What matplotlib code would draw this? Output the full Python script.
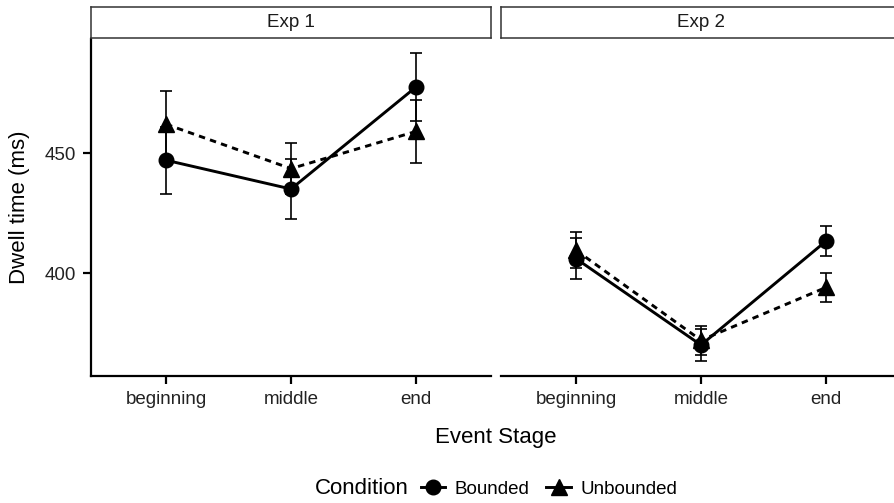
import numpy as np
import matplotlib
matplotlib.use("Agg")
import matplotlib.pyplot as plt
from matplotlib.lines import Line2D

plt.rcParams['font.family'] = ['Liberation Sans', 'DejaVu Sans']

stages = ['beginning', 'middle', 'end']
experiments = ['Exp 1', 'Exp 2']

# means and error bar half-widths
bounded_mean = {'Exp 1': [447, 435, 477.5], 'Exp 2': [406, 370, 413.3]}
bounded_err = {'Exp 1': [14, 12.5, 14], 'Exp 2': [8.5, 6.5, 6.3]}
unbounded_mean = {'Exp 1': [462, 443.5, 459], 'Exp 2': [409.5, 372, 394]}
unbounded_err = {'Exp 1': [14, 10.5, 13], 'Exp 2': [7.5, 6, 6]}

W, H = 895, 503
fig = plt.figure(figsize=(W / 100, H / 100), dpi=100)

def fx(px):
    return px / W

def fy(py):
    return 1 - py / H

panel_left = [91, 501]
panel_w = 400
top, bottom = 39, 376

x = np.arange(1, len(stages) + 1)

for i, exp in enumerate(experiments):
    l = panel_left[i]
    ax = fig.add_axes([fx(l), fy(bottom), panel_w / W, (bottom - top) / H])
    ax.errorbar(x, bounded_mean[exp], yerr=bounded_err[exp], fmt='none',
                ecolor='black', elinewidth=1.2, capsize=4.5, capthick=1.2, zorder=2)
    ax.errorbar(x, unbounded_mean[exp], yerr=unbounded_err[exp], fmt='none',
                ecolor='black', elinewidth=1.2, capsize=4.5, capthick=1.2, zorder=2)
    ax.plot(x, bounded_mean[exp], color='black', lw=2.1, ls='-',
            marker='o', markersize=10.5, zorder=3)
    ax.plot(x, unbounded_mean[exp], color='black', lw=2.1, ls=(0, (2.2, 1.8)),
            marker='^', markersize=11, zorder=3)
    ax.set_xlim(0.4, 3.6)
    ax.set_ylim(357.1, 497.5)
    ax.set_xticks(x)
    ax.set_xticklabels(stages, fontsize=13.5, color='#222222')
    ax.set_yticks([400, 450])
    for s in ['top', 'right']:
        ax.spines[s].set_visible(False)
    ax.spines['bottom'].set_linewidth(1.6)
    ax.spines['left'].set_linewidth(1.6)
    ax.tick_params(axis='both', length=6, width=1.6, color='black', pad=5)
    if i == 0:
        ax.set_yticklabels(['400', '450'], fontsize=13.5, color='#222222')
    else:
        ax.spines['left'].set_visible(False)
        ax.tick_params(axis='y', left=False, labelleft=False)

    # facet strip
    sax = fig.add_axes([fx(l), fy(38), panel_w / W, 31 / H])
    sax.set_xticks([])
    sax.set_yticks([])
    for s in sax.spines.values():
        s.set_color('#333333')
        s.set_linewidth(1.1)
    sax.text(0.5, 0.5, exp, ha='center', va='center', fontsize=13.5,
             color='#1a1a1a', transform=sax.transAxes)

fig.text(fx(20), fy(207), 'Dwell time (ms)', rotation=90, ha='center',
         va='center', fontsize=16)
fig.text(fx(496), fy(437), 'Event Stage', ha='center', va='center', fontsize=16)

fig.text(fx(315), fy(489), 'Condition', ha='left', va='center', fontsize=16)
handles = [
    Line2D([], [], color='black', lw=2.1, ls='-', marker='o', markersize=10.5),
    Line2D([], [], color='black', lw=2.1, ls='-', marker='^', markersize=11),
]
fig.legend(handles, ['Bounded', 'Unbounded'], ncol=2, frameon=False,
           loc='center', bbox_to_anchor=(fx(549), fy(489)), fontsize=13.5,
           handlelength=1.3, handletextpad=0.5, columnspacing=0.9)

plt.savefig('out.png', dpi=100)
